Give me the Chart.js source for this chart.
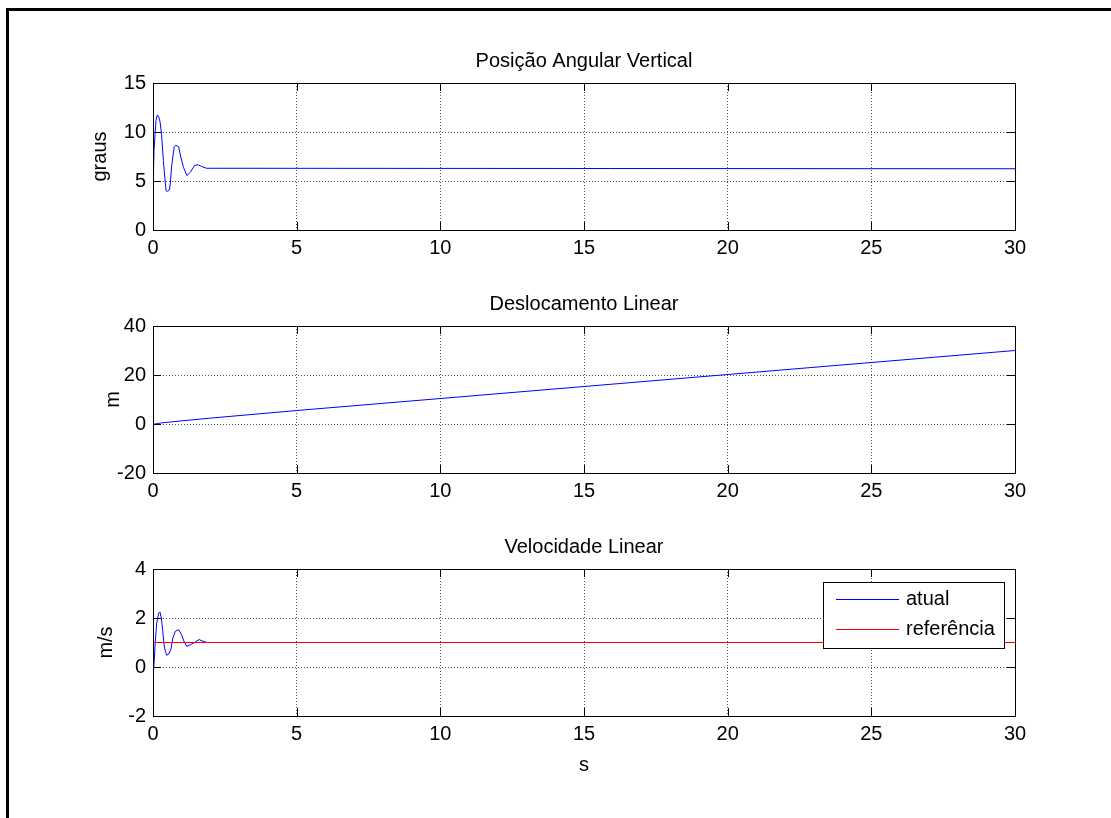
<!DOCTYPE html>
<html>
<head>
<meta charset="utf-8">
<script src="https://cdn.jsdelivr.net/npm/chart.js@4.4.1/dist/chart.umd.min.js"></script>
<style>
    body { margin: 0; background: #fff; width: 1111px; height: 818px; overflow: hidden; }
    #frame { position: absolute; left: 6px; top: 8px; width: 1110px; height: 815px; border-top: 3px solid #000; border-left: 3px solid #000; }
    .plot { position: absolute; left: 0; width: 1111px; }
</style>
</head>
<body>
<div id="frame"></div>
<div class="plot" style="top:30px;height:250px"><canvas id="angChart"></canvas></div>
<div class="plot" style="top:275px;height:250px"><canvas id="deslChart"></canvas></div>
<div class="plot" style="top:520px;height:298px"><canvas id="velChart"></canvas></div>
<script>
// tempo (s) e valores
const tAng = [0, 0, 0.035, 0.105, 0.15, 0.2, 0.245, 0.3, 0.36, 0.41, 0.455, 0.51, 0.57, 0.6, 0.65, 0.74, 0.79, 0.89, 0.97, 1.06, 1.18, 1.3, 1.45, 1.57, 1.68, 1.86, 30];
const vAng = [0, 3.85, 8.1, 11.2, 11.75, 11.55, 11.05, 9.7, 7.1, 5.4, 4.0, 3.95, 4.1, 4.7, 6.6, 8.5, 8.65, 8.5, 7.45, 6.4, 5.55, 5.9, 6.6, 6.65, 6.5, 6.3, 6.25];

const tDesl = [0, 0.1, 0.3, 0.6, 1.0, 2.0, 5.0, 10, 20, 30];
const vDesl = [0, 0.05, 0.45, 0.8, 1.3, 2.4, 5.5, 10.4, 20.2, 30];

const tVel = [0, 0.003, 0.006, 0.01, 0.015, 0.035, 0.08, 0.13, 0.2, 0.24, 0.29, 0.34, 0.385, 0.43, 0.48, 0.55, 0.62, 0.69, 0.78, 0.9, 0.99, 1.09, 1.18, 1.3, 1.47, 1.6, 1.74, 1.88, 30];
const vVel = [-1.7, -0.7, -0.1, -0.8, -0.2, 0.1, 1.05, 1.8, 2.2, 2.25, 2.0, 1.46, 0.91, 0.64, 0.48, 0.53, 0.71, 1.18, 1.46, 1.52, 1.32, 1.02, 0.84, 0.91, 1.02, 1.12, 1.05, 1.0, 1.0];
const tRef = [0, 30];
const vRef = [1, 1];

const xTicks = [0, 5, 10, 15, 20, 25, 30];
const angTicks = [0, 5, 10, 15];
const deslTicks = [-20, 0, 20, 40];
const velTicks = [-2, 0, 2, 4];

const FONT = 'Liberation Sans, Arial, sans-serif';
const FSIZE = 20;

function pts(ts, vs) {
    return ts.map((t, i) => ({ x: t, y: vs[i] }));
}

// box + inward tick marks + title over the plot area
const boxPlugin = {
    id: 'boxPlugin',
    afterDraw(chart, args, opts) {
        const { ctx, chartArea: a, scales } = chart;
        const x = scales.x, y = scales.y;
        const len = 8;
        ctx.save();
        ctx.strokeStyle = '#000';
        ctx.lineWidth = 1;
        ctx.beginPath();
        x.ticks.forEach(t => {
            const px = Math.round(x.getPixelForValue(t.value)) + 0.5;
            ctx.moveTo(px, a.bottom); ctx.lineTo(px, a.bottom - len);
            ctx.moveTo(px, a.top); ctx.lineTo(px, a.top + len);
        });
        y.ticks.forEach(t => {
            const py = Math.round(y.getPixelForValue(t.value)) + 0.5;
            ctx.moveTo(a.left, py); ctx.lineTo(a.left + len, py);
            ctx.moveTo(a.right, py); ctx.lineTo(a.right - len, py);
        });
        ctx.stroke();
        ctx.strokeRect(Math.round(a.left) + 0.5, Math.round(a.top) + 0.5,
            Math.round(a.right - a.left), Math.round(a.bottom - a.top));

        if (opts.text) {
            ctx.fillStyle = '#000';
            ctx.font = FSIZE + 'px ' + FONT;
            ctx.textAlign = 'center';
            ctx.textBaseline = 'middle';
            ctx.fillText(opts.text, (a.left + a.right) / 2, a.top - 22);
        }
        ctx.restore();
    }
};

// legenda dentro da área, canto superior direito
const boxLegend = {
    id: 'boxLegend',
    afterDraw(chart) {
        const { ctx, chartArea: a } = chart;
        const w = 181, h = 66;
        const left = Math.round(a.right - 11 - w), top = Math.round(a.top + 13);
        ctx.save();
        ctx.fillStyle = '#fff';
        ctx.fillRect(left, top, w, h);
        ctx.strokeStyle = '#000';
        ctx.lineWidth = 1;
        ctx.strokeRect(left + 0.5, top + 0.5, w, h);
        ctx.font = FSIZE + 'px ' + FONT;
        ctx.textBaseline = 'middle';
        chart.data.datasets.forEach((ds, i) => {
            const yy = top + 17 + i * 30 + 0.5;
            ctx.strokeStyle = ds.borderColor;
            ctx.beginPath();
            ctx.moveTo(left + 13, yy); ctx.lineTo(left + 76, yy);
            ctx.stroke();
            ctx.fillStyle = '#000';
            ctx.fillText(ds.label, left + 83, yy);
        });
        ctx.restore();
    }
};

function makeChart(id, cfg) {
    const wrapTop = cfg.wrapTop, wrapH = cfg.wrapH;
    const lh = FSIZE * 1.2;
    const xH = cfg.xHeight || 40;
    const padTop = cfg.boxTop - wrapTop;
    const padBottom = wrapH - xH - (cfg.boxBottom - wrapTop);

    return new Chart(document.getElementById(id).getContext('2d'), {
        type: 'line',
        data: { datasets: cfg.datasets },
        options: {
            responsive: true,
            maintainAspectRatio: false,
            animation: false,
            layout: { padding: { left: 0, right: 1111 - 1015, top: padTop, bottom: padBottom } },
            plugins: {
                legend: { display: false },
                tooltip: { enabled: false },
                boxPlugin: { text: cfg.title }
            },
            scales: {
                x: {
                    type: 'linear',
                    min: 0, max: 30,
                    afterFit: s => { s.height = xH; },
                    afterBuildTicks: s => { s.ticks = xTicks.map(v => ({ value: v })); },
                    ticks: { color: '#000', padding: 6, maxRotation: 0, autoSkip: false, font: { family: FONT, size: FSIZE } },
                    grid: { color: '#555', drawTicks: false },
                    border: { display: true, color: '#000', dash: [1, 2] },
                    title: {
                        display: !!cfg.xTitle,
                        text: cfg.xTitle || '',
                        color: '#000',
                        font: { family: FONT, size: FSIZE },
                        padding: { top: 0, bottom: 1 }
                    }
                },
                y: {
                    min: cfg.yTicks[0], max: cfg.yTicks[cfg.yTicks.length - 1],
                    afterFit: s => { s.width = 153; },
                    afterBuildTicks: s => { s.ticks = cfg.yTicks.map(v => ({ value: v })); },
                    ticks: { color: '#000', padding: 7, font: { family: FONT, size: FSIZE } },
                    grid: { color: '#555', drawTicks: false },
                    border: { display: true, color: '#000', dash: [1, 2] },
                    title: {
                        display: true,
                        text: cfg.yTitle,
                        color: '#000',
                        font: { family: FONT, size: FSIZE },
                        padding: { top: cfg.yTitleX - lh / 2, bottom: 0 }
                    }
                }
            }
        },
        plugins: cfg.plugins
    });
}

function lineDs(label, ts, vs, color, order) {
    return {
        label: label,
        data: pts(ts, vs),
        borderColor: color,
        backgroundColor: color,
        borderWidth: 1,
        pointRadius: 0,
        tension: 0,
        fill: false,
        order: order
    };
}

makeChart('angChart', {
    wrapTop: 30, wrapH: 250, boxTop: 83, boxBottom: 230,
    title: 'Posição Angular Vertical', yTitle: 'graus', yTitleX: 100,
    yTicks: angTicks,
    datasets: [lineDs('atual', tAng, vAng, '#0000ff', 0)],
    plugins: [boxPlugin]
});

makeChart('deslChart', {
    wrapTop: 275, wrapH: 250, boxTop: 326, boxBottom: 473,
    title: 'Deslocamento Linear', yTitle: 'm', yTitleX: 113,
    yTicks: deslTicks,
    datasets: [lineDs('atual', tDesl, vDesl, '#0000ff', 0)],
    plugins: [boxPlugin]
});

makeChart('velChart', {
    wrapTop: 520, wrapH: 298, boxTop: 569, boxBottom: 716, xHeight: 62,
    title: 'Velocidade Linear', yTitle: 'm/s', yTitleX: 106, xTitle: 's',
    yTicks: velTicks,
    datasets: [
        lineDs('atual', tVel, vVel, '#0000ff', 1),
        lineDs('referência', tRef, vRef, '#ff0000', 0)
    ],
    plugins: [boxPlugin, boxLegend]
});
</script>
</body>
</html>
